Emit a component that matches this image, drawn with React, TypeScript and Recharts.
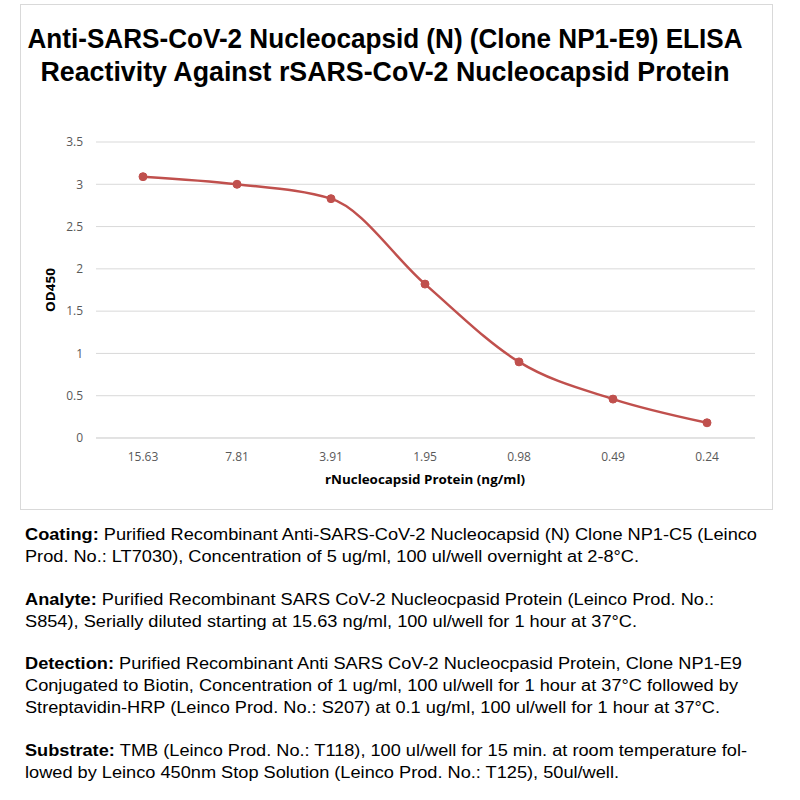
import { LineChart, Line, XAxis, YAxis, CartesianGrid } from 'recharts'

const concentrations = ['15.63', '7.81', '3.91', '1.95', '0.98', '0.49', '0.24']
const od450 = [3.09, 3.0, 2.83, 1.82, 0.9, 0.46, 0.18]
const yTicks = [0, 0.5, 1, 1.5, 2, 2.5, 3, 3.5]

const titleLines = [
  'Anti-SARS-CoV-2 Nucleocapsid (N) (Clone NP1-E9) ELISA',
  'Reactivity Against rSARS-CoV-2 Nucleocapsid Protein',
]

// [bold lead, rest of line, right edge of line, baseline]
const notes: [string, string, number, number][] = [
  ['Coating: ', 'Purified Recombinant Anti-SARS-CoV-2 Nucleocapsid (N) Clone NP1-C5 (Leinco', 757, 540],
  ['', 'Prod. No.: LT7030), Concentration of 5 ug/ml, 100 ul/well overnight at 2-8°C.', 639, 562],
  ['Analyte: ', 'Purified Recombinant SARS CoV-2 Nucleocpasid Protein (Leinco Prod. No.:', 714, 605],
  ['', 'S854), Serially diluted starting at 15.63 ng/ml, 100 ul/well for 1 hour at 37°C.', 637, 627],
  ['Detection: ', 'Purified Recombinant Anti SARS CoV-2 Nucleocpasid Protein, Clone NP1-E9', 742, 669],
  ['', 'Conjugated to Biotin, Concentration of 1 ug/ml, 100 ul/well for 1 hour at 37°C followed by', 738, 691],
  ['', 'Streptavidin-HRP (Leinco Prod. No.: S207) at 0.1 ug/ml, 100 ul/well for 1 hour at 37°C.', 720, 713],
  ['Substrate: ', 'TMB (Leinco Prod. No.: T118), 100 ul/well for 15 min. at room temperature fol-', 747, 756],
  ['', 'lowed by Leinco 450nm Stop Solution (Leinco Prod. No.: T125), 50ul/well.', 619, 778],
]

const data = concentrations.map((c, i) => ({ conc: c, od: od450[i] }))

const RED = '#C0504D'
const GRID = '#D9D9D9'
const TICK = { fill: '#595959', fontSize: 12, fontFamily: 'Open Sans, sans-serif' }

export default function App() {
  return (
    <div style={{ position: 'absolute', left: 0, top: 0, width: 800, height: 800, background: '#fff' }}>
      <svg width={800} height={800} style={{ position: 'absolute', left: 0, top: 0 }}>
        <rect x={20.5} y={4.5} width={752} height={505} fill="#fff" stroke={GRID} />
      </svg>
      <div style={{ position: 'absolute', left: 0, top: 0 }}>
        <LineChart width={800} height={800} data={data} margin={{ top: 142, right: 45, bottom: 332, left: 36 }}>
          <CartesianGrid vertical={false} stroke={GRID} strokeWidth={1} />
          <XAxis
            dataKey="conc"
            height={30}
            padding={{ left: 47, right: 48 }}
            axisLine={{ stroke: GRID }}
            tickLine={false}
            tickMargin={8}
            tick={TICK}
          />
          <YAxis
            width={60}
            domain={[0, 3.5]}
            ticks={yTicks}
            axisLine={false}
            tickLine={false}
            tickMargin={7}
            tick={TICK}
          />
          <Line
            type="monotone"
            dataKey="od"
            stroke={RED}
            strokeWidth={2.5}
            dot={{ r: 4, fill: RED, stroke: RED, strokeWidth: 1 }}
            isAnimationActive={false}
          />
        </LineChart>
      </div>
      <svg width={800} height={800} style={{ position: 'absolute', left: 0, top: 0, pointerEvents: 'none' }}>
        <text x={385} y={48} textAnchor="middle" fontFamily="Liberation Sans, Arial, sans-serif" fontWeight="bold" fontSize={27} textLength={715} lengthAdjust="spacingAndGlyphs" fill="#000">
          {titleLines[0]}
        </text>
        <text x={385} y={81} textAnchor="middle" fontFamily="Liberation Sans, Arial, sans-serif" fontWeight="bold" fontSize={27} textLength={689} lengthAdjust="spacingAndGlyphs" fill="#000">
          {titleLines[1]}
        </text>
        <text x={425} y={484} textAnchor="middle" fontFamily="Open Sans, sans-serif" fontWeight="bold" fontSize={13} textLength={200} lengthAdjust="spacingAndGlyphs" fill="#000">
          rNucleocapsid Protein (ng/ml)
        </text>
        <text x={0} y={0} transform="translate(55 290) rotate(-90)" textAnchor="middle" fontFamily="Open Sans, sans-serif" fontWeight="bold" fontSize={13} textLength={44} lengthAdjust="spacingAndGlyphs" fill="#000">
          OD450
        </text>
        {notes.map(([lead, rest, right, y], i) => (
          <text key={i} x={25} y={y} fontFamily="Liberation Sans, Arial, sans-serif" fontSize={16} textLength={right - 25} lengthAdjust="spacingAndGlyphs" fill="#000">
            {lead && <tspan fontWeight="bold">{lead}</tspan>}
            <tspan>{rest}</tspan>
          </text>
        ))}
      </svg>
    </div>
  )
}
